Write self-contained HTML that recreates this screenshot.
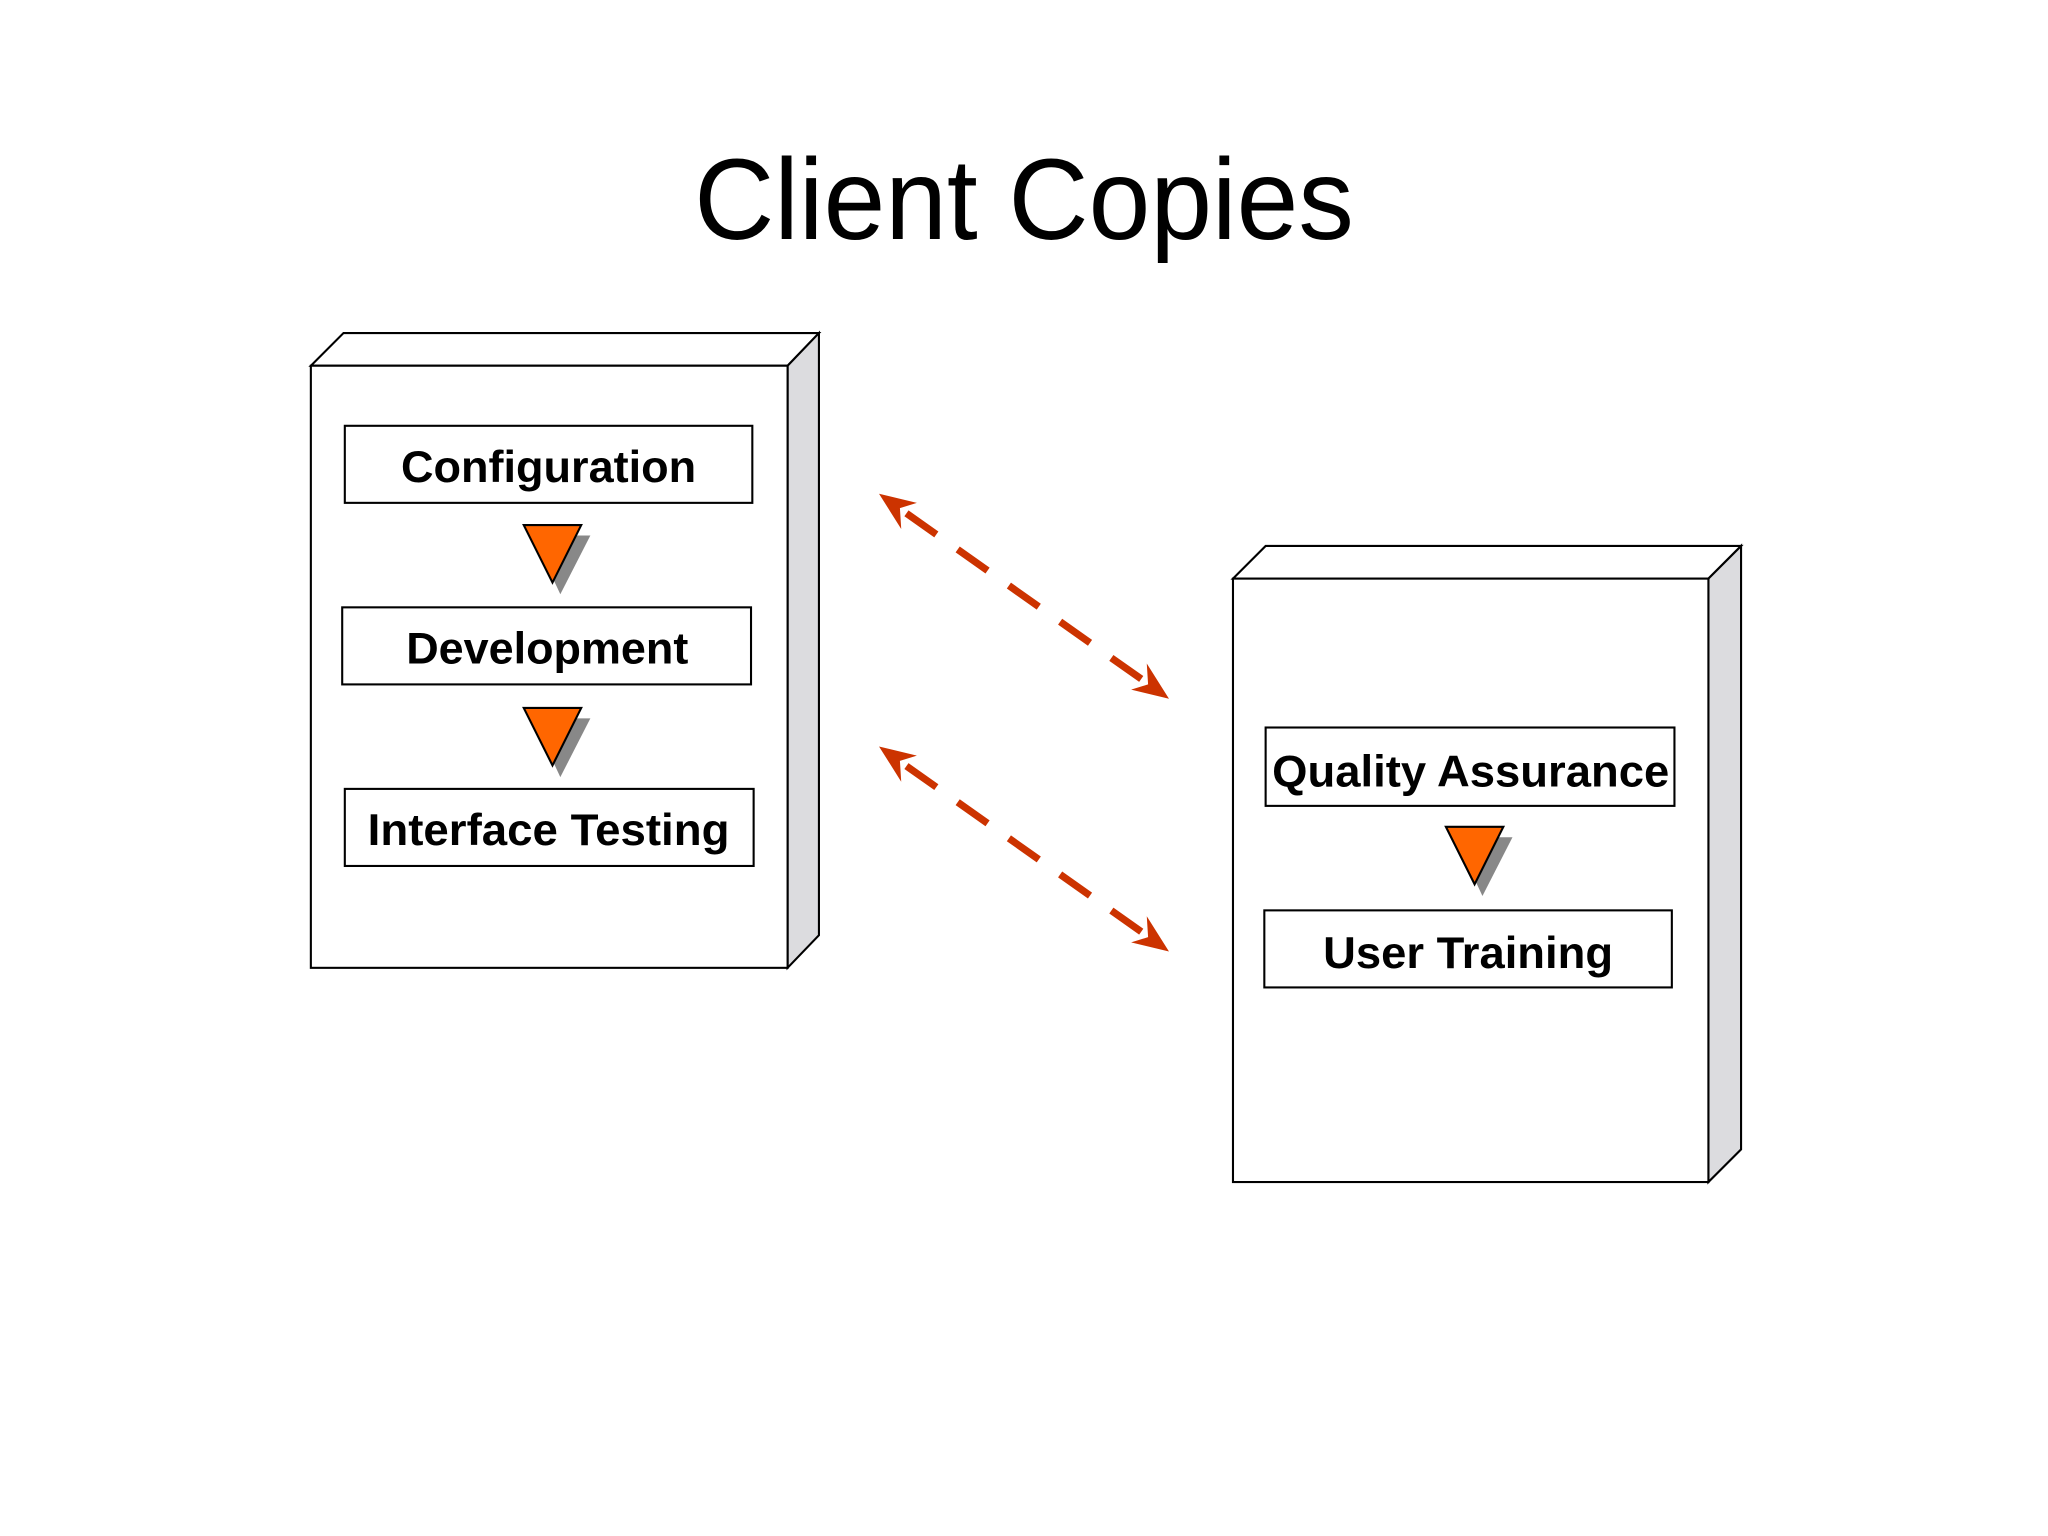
<!DOCTYPE html>
<html><head><meta charset="utf-8"><style>
html,body{margin:0;padding:0;background:#fff;}
svg{display:block;}
text{font-family:"Liberation Sans",Arial,sans-serif;}
</style></head><body>
<svg width="2048" height="1536" viewBox="0 0 1568 1176" xmlns="http://www.w3.org/2000/svg">
<rect width="1568" height="1176" fill="#fff"/>
<text x="784" y="183" text-anchor="middle" font-size="88" textLength="505" lengthAdjust="spacingAndGlyphs" fill="#000">Client Copies</text>

<g stroke="#000" stroke-width="1.6" stroke-linejoin="miter">
<polygon points="238,280 263,255 627,255 603,280" fill="#fff"/>
<polygon points="603,280 627,255 627,716 603,741" fill="#dcdcdf"/>
<rect x="238" y="280" width="365" height="461" fill="#fff"/>
<polygon points="944,443 969,418 1333,418 1308,443" fill="#fff"/>
<polygon points="1308,443 1333,418 1333,880 1308,905" fill="#dcdcdf"/>
<rect x="944" y="443" width="364" height="462" fill="#fff"/>

<rect x="264" y="326" width="312" height="59" fill="#fff"/>
<rect x="262" y="465" width="313" height="59" fill="#fff"/>
<rect x="264" y="604" width="313" height="59" fill="#fff"/>
<rect x="969" y="557" width="313" height="60" fill="#fff"/>
<rect x="968" y="697" width="312" height="59" fill="#fff"/>
</g>

<g font-weight="bold" font-size="34" text-anchor="middle" fill="#000">
<text x="420" y="369" textLength="226" lengthAdjust="spacingAndGlyphs">Configuration</text>
<text x="419" y="508" textLength="216" lengthAdjust="spacingAndGlyphs">Development</text>
<text x="420" y="647" textLength="277" lengthAdjust="spacingAndGlyphs">Interface Testing</text>
<text x="1126" y="602" textLength="304" lengthAdjust="spacingAndGlyphs">Quality Assurance</text>
<text x="1124" y="741" textLength="222" lengthAdjust="spacingAndGlyphs">User Training</text>
</g>

<g>
<polygon points="408,410 452,410 429,455" fill="#888"/>
<polygon points="401,402 445,402 423,446" fill="#ff6600" stroke="#000" stroke-width="1.6"/>
<polygon points="408,550 452,550 429,595" fill="#888"/>
<polygon points="401,542 445,542 423,586" fill="#ff6600" stroke="#000" stroke-width="1.6"/>
<polygon points="1114,641 1158,641 1135,686" fill="#888"/>
<polygon points="1107,633 1151,633 1129,677" fill="#ff6600" stroke="#000" stroke-width="1.6"/>
</g>

<g>
<line x1="694" y1="393" x2="874" y2="520" stroke="#cc3300" stroke-width="5.5" stroke-dasharray="28,20"/>
<polygon points="673,378 702,385 689,389 690,405" fill="#cc3300"/>
<polygon points="895,535 866,528 879,524 878,508" fill="#cc3300"/>
</g>
<g transform="translate(0,193.5)">
<line x1="694" y1="393" x2="874" y2="520" stroke="#cc3300" stroke-width="5.5" stroke-dasharray="28,20"/>
<polygon points="673,378 702,385 689,389 690,405" fill="#cc3300"/>
<polygon points="895,535 866,528 879,524 878,508" fill="#cc3300"/>
</g>
</svg>
</body></html>
